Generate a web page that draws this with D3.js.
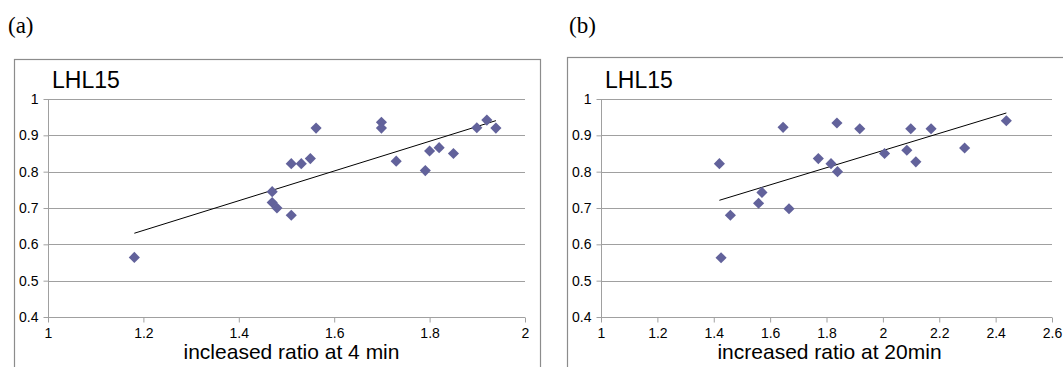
<!DOCTYPE html>
<html>
<head>
<meta charset="utf-8">
<script src="https://cdn.jsdelivr.net/npm/d3@7"></script>
<style>
  body { margin: 0; background: #fff; }
  svg { display: block; }
  .tick text { font-family: "Liberation Sans", Arial, sans-serif; font-size: 14px; fill: #000; }
</style>
</head>
<body>
<svg id="chart" width="1063" height="367"></svg>
<script>
// panel (a): increased ratio at 4 min
const ratio4min = [1.181, 1.47, 1.47, 1.48, 1.51, 1.51, 1.531, 1.55, 1.562, 1.699, 1.699, 1.73, 1.791, 1.80, 1.82, 1.85, 1.899, 1.92, 1.939];
const lhl15A = [0.564, 0.745, 0.715, 0.70, 0.68, 0.822, 0.822, 0.836, 0.92, 0.936, 0.92, 0.829, 0.803, 0.857, 0.866, 0.85, 0.921, 0.942, 0.92];
// panel (b): increased ratio at 20 min
const ratio20min = [1.42, 1.426, 1.459, 1.559, 1.571, 1.646, 1.667, 1.771, 1.816, 1.839, 1.837, 1.918, 2.006, 2.085, 2.099, 2.117, 2.171, 2.29, 2.438];
const lhl15B = [0.822, 0.563, 0.68, 0.713, 0.743, 0.922, 0.698, 0.836, 0.822, 0.80, 0.934, 0.918, 0.85, 0.859, 0.918, 0.827, 0.918, 0.865, 0.94];

const yTicks = [0.4, 0.5, 0.6, 0.7, 0.8, 0.9, 1];
const xTicksA = [1, 1.2, 1.4, 1.6, 1.8, 2];
const xTicksB = [1, 1.2, 1.4, 1.6, 1.8, 2, 2.2, 2.4, 2.6];

const panels = [
  { tag: '(a)', tagX: 8, frame: [14, 59, 540, 400], plot: [48, 525], x: ratio4min, y: lhl15A,
    xDomain: [1, 2], xTicks: xTicksA, title: 'incleased ratio at 4 min', titleDx: 5 },
  { tag: '(b)', tagX: 569, frame: [567, 57, 1080, 400], plot: [601, 1052], x: ratio20min, y: lhl15B,
    xDomain: [1, 2.6], xTicks: xTicksB, title: 'increased ratio at 20min', titleDx: 3 }
];

const svg = d3.select('#chart');
const gridColor = '#a0a0a0';

function fmt(v){ return String(+v.toFixed(1)); }

function linreg(xs, ys){
  const mx = d3.mean(xs), my = d3.mean(ys);
  let sxy = 0, sxx = 0;
  xs.forEach((x,i)=>{ sxy += (x-mx)*(ys[i]-my); sxx += (x-mx)*(x-mx); });
  const b = sxy / sxx;
  return { b, a: my - b*mx };
}

panels.forEach(p=>{
  // panel letter
  svg.append('text')
    .attr('x', p.tagX).attr('y', 33)
    .attr('font-family', '"Liberation Serif", "Times New Roman", serif')
    .attr('font-size', 23)
    .text(p.tag);

  // frame
  const [fx0, fy0, fx1, fy1] = p.frame;
  svg.append('rect')
    .attr('x', fx0 + 0.5).attr('y', fy0 + 0.5)
    .attr('width', fx1 - fx0).attr('height', fy1 - fy0)
    .attr('fill', 'none').attr('stroke', '#8c8c8c').attr('stroke-width', 1.2);

  const xs = d3.scaleLinear().domain(p.xDomain).range(p.plot);
  const ys = d3.scaleLinear().domain([0.4, 1]).range([317, 99]);

  const g = svg.append('g');

  // horizontal gridlines
  g.selectAll('line.grid').data(yTicks.slice(1)).enter().append('line')
    .attr('class', 'grid')
    .attr('x1', p.plot[0]).attr('x2', p.plot[1])
    .attr('y1', d => Math.round(ys(d)) + 0.5).attr('y2', d => Math.round(ys(d)) + 0.5)
    .attr('stroke', gridColor).attr('stroke-width', 1);

  // axes
  const yAxis = d3.axisLeft(ys).tickValues(yTicks).tickFormat(fmt).tickSize(5).tickPadding(5);
  const xAxis = d3.axisBottom(xs).tickValues(p.xTicks).tickFormat(fmt).tickSize(5).tickPadding(6);

  const ya = g.append('g').attr('transform', `translate(${p.plot[0] + 0.5},0)`).call(yAxis);
  const xa = g.append('g').attr('transform', `translate(0,${Math.round(ys(0.4)) + 0.5})`).call(xAxis);
  [ya, xa].forEach(a=>{
    a.select('.domain').attr('stroke', gridColor);
    a.selectAll('.tick line').attr('stroke', gridColor);
  });
  xa.select('.domain').attr('d', `M${p.plot[0]},0H${p.plot[1]}`);
  ya.select('.domain').attr('d', `M0,${ys(0.4)}V${ys(1)}`);

  // series label
  svg.append('text')
    .attr('x', p.plot[0] + 4).attr('y', 88)
    .attr('font-family', '"Liberation Sans", Arial, sans-serif')
    .attr('font-size', 23)
    .text('LHL15');

  // x axis title
  svg.append('text')
    .attr('x', (p.plot[0] + p.plot[1]) / 2 + p.titleDx).attr('y', 359)
    .attr('text-anchor', 'middle')
    .attr('font-family', '"Liberation Sans", Arial, sans-serif')
    .attr('font-size', 21)
    .text(p.title);

  // linear trendline
  const r = linreg(p.x, p.y);
  const [xmin, xmax] = d3.extent(p.x);
  g.append('line')
    .attr('x1', xs(xmin)).attr('y1', ys(r.a + r.b*xmin))
    .attr('x2', xs(xmax)).attr('y2', ys(r.a + r.b*xmax))
    .attr('stroke', '#000').attr('stroke-width', 1);

  // markers
  const diamond = d3.symbol().type(d3.symbolSquare).size(62);
  g.selectAll('path.pt').data(p.x.map((x,i)=>[x, p.y[i]])).enter().append('path')
    .attr('class', 'pt')
    .attr('d', diamond)
    .attr('transform', d => `translate(${xs(d[0])},${ys(d[1])}) rotate(45)`)
    .attr('fill', '#62629b');
});
</script>
</body>
</html>
